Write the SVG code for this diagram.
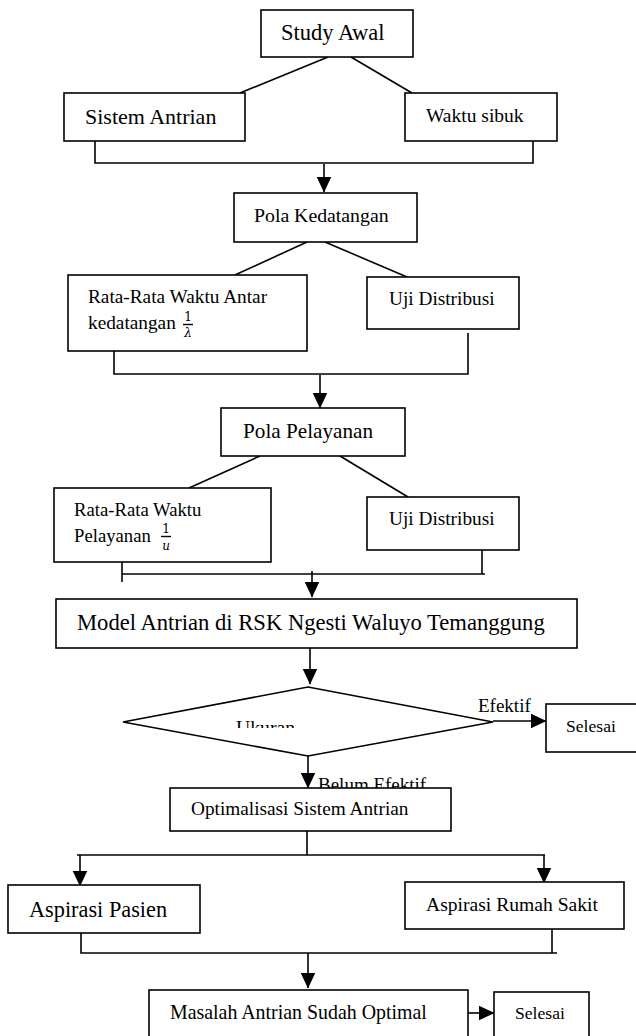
<svg xmlns="http://www.w3.org/2000/svg" width="636" height="1036" viewBox="0 0 636 1036">
<defs>
<style>
.b{fill:#fff;stroke:#000;stroke-width:1.6}
.l{fill:none;stroke:#000;stroke-width:1.6}
.t{font-family:"Liberation Serif","Times New Roman",serif;fill:#000}
.n{font-family:"DejaVu Serif","Liberation Serif",serif;fill:#000}
.m{font-family:"DejaVu Serif","Liberation Serif",serif;font-style:italic;fill:#000}
</style>
<marker id="ah" markerUnits="userSpaceOnUse" markerWidth="16" markerHeight="16" viewBox="0 0 15 14" refX="14.5" refY="7" orient="auto">
<path d="M0,0 L15,7 L0,14 Z" fill="#000"/>
</marker>
<clipPath id="ukclip"><rect x="200" y="700" width="150" height="28"/></clipPath>
</defs>
<rect width="636" height="1036" fill="#fff"/>

<g id="connectors">
<line class="l" x1="328" y1="57" x2="240" y2="93"/>
<line class="l" x1="351" y1="57" x2="412" y2="93"/>
<polyline class="l" points="95,139 95,163 533,163 533,137"/>
<line class="l" x1="324" y1="164" x2="324" y2="192" marker-end="url(#ah)"/>
<line class="l" x1="307" y1="242" x2="235" y2="275"/>
<line class="l" x1="325" y1="242" x2="407" y2="277"/>
<polyline class="l" points="114,351 114,374 468,374 468,333"/>
<line class="l" x1="320" y1="375" x2="320" y2="408" marker-end="url(#ah)"/>
<line class="l" x1="260" y1="456" x2="189" y2="488"/>
<line class="l" x1="340" y1="456" x2="408" y2="497"/>
<line class="l" x1="122" y1="559" x2="122" y2="582"/>
<polyline class="l" points="122,574 485,574"/>
<line class="l" x1="482" y1="550" x2="482" y2="574"/>
<line class="l" x1="312" y1="571" x2="312" y2="597" marker-end="url(#ah)"/>
<line class="l" x1="310" y1="648" x2="310" y2="684" marker-end="url(#ah)"/>
<line class="l" x1="493" y1="721" x2="546" y2="721" marker-end="url(#ah)"/>
<line class="l" x1="308" y1="756" x2="308" y2="788" marker-end="url(#ah)"/>
<line class="l" x1="307" y1="831" x2="307" y2="855"/>
<line class="l" x1="77" y1="855" x2="545" y2="855"/>
<line class="l" x1="80" y1="855" x2="80" y2="886" marker-end="url(#ah)"/>
<line class="l" x1="544" y1="855" x2="544" y2="883" marker-end="url(#ah)"/>
<polyline class="l" points="81,933 81,953 557,953"/>
<line class="l" x1="552" y1="929" x2="552" y2="953"/>
<line class="l" x1="308" y1="953" x2="308" y2="988" marker-end="url(#ah)"/>
<line class="l" x1="468" y1="1013" x2="494" y2="1013" marker-end="url(#ah)"/>
<text class="t" x="478" y="712" font-size="19">Efektif</text>
<text class="t" x="318" y="791" font-size="19">Belum Efektif</text>
</g>

<g id="study-awal">
<rect class="b" x="261" y="10" width="152" height="47"/>
<text class="t" x="281" y="40" font-size="22.5">Study Awal</text>
</g>
<g id="sistem-antrian">
<rect class="b" x="64" y="93" width="181" height="48"/>
<text class="t" x="85" y="124" font-size="22">Sistem Antrian</text>
</g>
<g id="waktu-sibuk">
<rect class="b" x="405" y="93" width="152" height="48"/>
<text class="t" x="426" y="122" font-size="19.5">Waktu sibuk</text>
</g>
<g id="pola-kedatangan">
<rect class="b" x="234" y="193" width="183" height="49"/>
<text class="t" x="254" y="222" font-size="19.8">Pola Kedatangan</text>
</g>
<g id="rata-kedatangan">
<rect class="b" x="68" y="275" width="239" height="76"/>
<text class="t" x="88" y="303" font-size="19.3">Rata-Rata Waktu Antar</text>
<text class="t" x="88" y="329" font-size="19.3">kedatangan</text>
<text class="n" x="188" y="321" font-size="12" text-anchor="middle">1</text>
<line x1="183" y1="324.5" x2="193" y2="324.5" stroke="#000" stroke-width="1.4"/>
<text class="m" x="188" y="337" font-size="12" text-anchor="middle">λ</text>
</g>
<g id="uji-distribusi-1">
<rect class="b" x="367" y="277" width="152" height="52"/>
<text class="t" x="389" y="305" font-size="19.3">Uji Distribusi</text>
</g>
<g id="pola-pelayanan">
<rect class="b" x="221" y="408" width="184" height="48"/>
<text class="t" x="243" y="438" font-size="21.2">Pola Pelayanan</text>
</g>
<g id="rata-pelayanan">
<rect class="b" x="54" y="488" width="217" height="74"/>
<text class="t" x="74" y="516" font-size="18.7">Rata-Rata Waktu</text>
<text class="t" x="74" y="542" font-size="18.7">Pelayanan</text>
<text class="n" x="166" y="533" font-size="12" text-anchor="middle">1</text>
<line x1="161" y1="536.5" x2="171" y2="536.5" stroke="#000" stroke-width="1.4"/>
<text class="m" x="166" y="550" font-size="12" text-anchor="middle">u</text>
</g>
<g id="uji-distribusi-2">
<rect class="b" x="367" y="497" width="152" height="53"/>
<text class="t" x="389" y="525" font-size="19.3">Uji Distribusi</text>
</g>
<g id="model-antrian">
<rect class="b" x="56" y="599" width="521" height="49"/>
<text class="t" x="77" y="630" font-size="22.6">Model Antrian di RSK Ngesti Waluyo Temanggung</text>
</g>
<g id="ukuran">
<polygon class="b" points="123,722 308,687 493,722 308,756"/>
<text class="t" x="236" y="734" font-size="19.7" clip-path="url(#ukclip)">Ukuran</text>
</g>
<g id="selesai-1">
<rect class="b" x="546" y="704" width="95" height="48"/>
<text class="t" x="566" y="732" font-size="17.6">Selesai</text>
</g>
<g id="optimalisasi">
<rect class="b" x="170" y="788" width="281" height="43"/>
<text class="t" x="191" y="815" font-size="19.3">Optimalisasi Sistem Antrian</text>
</g>
<g id="aspirasi-pasien">
<rect class="b" x="8" y="885" width="192" height="48"/>
<text class="t" x="29" y="917" font-size="22.3">Aspirasi Pasien</text>
</g>
<g id="aspirasi-rs">
<rect class="b" x="405" y="882" width="219" height="47"/>
<text class="t" x="426" y="911" font-size="19.6">Aspirasi Rumah Sakit</text>
</g>
<g id="masalah">
<rect class="b" x="149" y="990" width="319" height="50"/>
<text class="t" x="170" y="1019" font-size="19.9">Masalah Antrian Sudah Optimal</text>
</g>
<g id="selesai-2">
<rect class="b" x="494" y="992" width="95" height="48"/>
<text class="t" x="515" y="1019" font-size="17.6">Selesai</text>
</g>
</svg>
